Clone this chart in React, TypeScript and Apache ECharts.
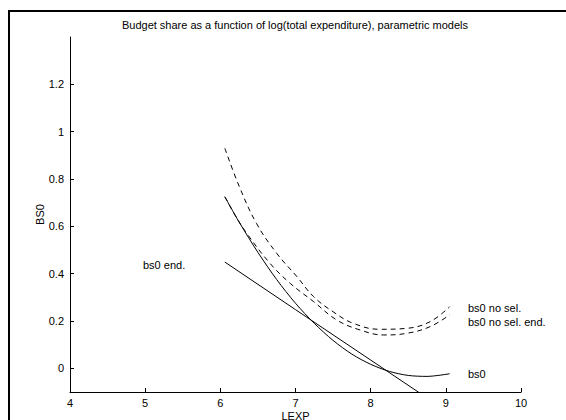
import React, { useEffect, useRef } from "react";
import * as echarts from "echarts";

// ---- data ----
const xTicks = [4, 5, 6, 7, 8, 9, 10];
const yTicks = [0, 0.2, 0.4, 0.6, 0.8, 1, 1.2];

// bs0 (solid curve)
const bs0X = [6.06, 6.25, 6.5, 6.75, 7.0, 7.25, 7.5, 7.75, 8.0, 8.25, 8.5, 8.75, 9.05];
const bs0Y = [0.725, 0.618, 0.49, 0.375, 0.275, 0.19, 0.118, 0.06, 0.017, -0.013, -0.03, -0.034, -0.023];

// bs0 end. (straight line)
const bs0EndX = [6.06, 7.0, 8.0, 9.05];
const bs0EndY = [0.449, 0.248, 0.035, -0.189];

// bs0 no sel. (dashed, upper)
const noSelX = [6.06, 6.25, 6.48, 6.75, 7.02, 7.24, 7.5, 7.77, 8.12, 8.48, 8.79, 9.05];
const noSelY = [0.93, 0.77, 0.613, 0.486, 0.387, 0.303, 0.239, 0.19, 0.165, 0.169, 0.197, 0.26];

// bs0 no sel. end. (dashed, lower)
const noSelEndX = [6.06, 6.2, 6.35, 6.66, 6.93, 7.24, 7.55, 7.86, 8.17, 8.48, 8.79, 9.05];
const noSelEndY = [0.725, 0.645, 0.571, 0.444, 0.359, 0.282, 0.204, 0.162, 0.141, 0.148, 0.176, 0.226];

const title = "Budget share as a function of log(total expenditure), parametric models";
const FONT = "'Liberation Sans', Arial, Helvetica, sans-serif";

const zip = (xs: number[], ys: number[]) => xs.map((x, i) => [x, ys[i]]);

export default function App() {
  const ref = useRef<HTMLDivElement>(null);
  useEffect(() => {
    if (!ref.current) return;
    const chart = echarts.init(ref.current, undefined, { renderer: "svg" });
    const lineBase = {
      type: "line" as const,
      showSymbol: false,
      symbol: "none",
      clip: true,
      silent: true,
    };
    const txt = (text: string, x: number, y: number, align = "left") => ({
      type: "text",
      x,
      y,
      silent: true,
      style: { text, fill: "#000", font: `11px ${FONT}`, textAlign: align, textVerticalAlign: "middle" },
    });
    chart.setOption({
      animation: false,
      backgroundColor: "#fff",
      textStyle: { fontFamily: FONT },
      grid: { left: 70, right: 45, top: 37, bottom: 28, containLabel: false, outerBoundsMode: "none" },
      xAxis: {
        type: "value",
        min: 4,
        max: 10,
        interval: 1,
        name: "LEXP",
        nameLocation: "middle",
        nameGap: 18,
        nameMoveOverlap: false,
        nameTextStyle: { color: "#000", fontSize: 11, fontFamily: FONT },
        axisLine: { show: true, onZero: false, lineStyle: { color: "#000", width: 1 } },
        axisTick: { show: true, inside: true, length: 4, lineStyle: { color: "#000" }, customValues: xTicks },
        axisLabel: { color: "#000", fontSize: 11, margin: 5, fontFamily: FONT, customValues: xTicks },
        splitLine: { show: false },
      },
      yAxis: {
        type: "value",
        min: -0.1,
        max: 1.4,
        name: "BS0",
        nameLocation: "middle",
        nameGap: 25,
        nameRotate: 90,
        nameMoveOverlap: false,
        nameTextStyle: { color: "#000", fontSize: 11, fontFamily: FONT },
        axisLine: { show: true, onZero: false, lineStyle: { color: "#000", width: 1 } },
        axisTick: { show: true, inside: true, length: 4, lineStyle: { color: "#000" }, customValues: yTicks },
        axisLabel: {
          color: "#000",
          fontSize: 11,
          margin: 6,
          fontFamily: FONT,
          customValues: yTicks,
          formatter: (v: number) => String(Math.round(v * 10) / 10),
        },
        splitLine: { show: false },
      },
      series: [
        { ...lineBase, name: "bs0", smooth: 0.3, data: zip(bs0X, bs0Y), lineStyle: { color: "#000", width: 1 } },
        { ...lineBase, name: "bs0 end.", data: zip(bs0EndX, bs0EndY), lineStyle: { color: "#000", width: 1 } },
        {
          ...lineBase,
          name: "bs0 no sel.",
          smooth: 0.4,
          data: zip(noSelX, noSelY),
          lineStyle: { color: "#000", width: 1, type: [5, 4] },
        },
        {
          ...lineBase,
          name: "bs0 no sel. end.",
          smooth: 0.4,
          data: zip(noSelEndX, noSelEndY),
          lineStyle: { color: "#000", width: 1, type: [5, 4] },
        },
      ],
      graphic: [
        {
          type: "rect",
          shape: { x: 9, y: 11, width: 700, height: 600 },
          style: { fill: "none", stroke: "#000", lineWidth: 2 },
          silent: true,
        },
        txt(title, 295, 25, "center"),
        txt("bs0 end.", 143, 265),
        txt("bs0 no sel.", 468, 308),
        txt("bs0 no sel. end.", 468, 322),
        txt("bs0", 468, 374),
      ],
    });
    return () => chart.dispose();
  }, []);
  return (
    <div
      ref={ref}
      style={{ position: "absolute", left: 0, top: 0, width: 566, height: 420, background: "#fff" }}
    />
  );
}
